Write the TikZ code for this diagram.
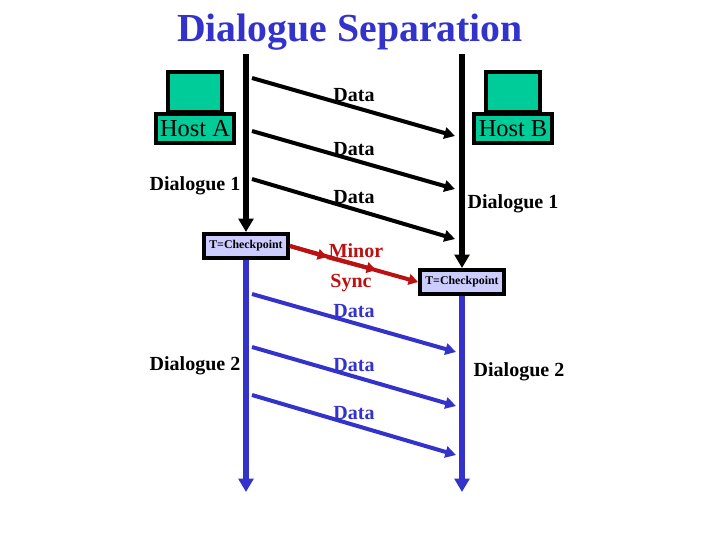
\documentclass[tikz,border=0pt]{standalone}
\usepackage{fontspec}
\setmainfont{Liberation Serif}
\usetikzlibrary{arrows.meta}
\definecolor{host_green}{HTML}{00CC99}
\definecolor{box_lilac}{HTML}{CCCCFF}
\definecolor{line_blue}{HTML}{3333CC}
\definecolor{sync_red}{HTML}{BB1111}
\tikzset{
  host_top/.style={draw=black, fill=host_green, line width=3pt, inner sep=0pt, minimum width=40.5pt, minimum height=30pt},
  host_base/.style={draw=black, fill=host_green, line width=3pt, inner sep=0pt, minimum width=58.5pt, minimum height=21.75pt, font=\fontsize{18.3}{20}\selectfont},
  check_box/.style={draw=black, fill=box_lilac, line width=3pt, inner sep=0pt, minimum width=63pt, minimum height=18pt, font=\bfseries\fontsize{8.9}{11}\selectfont},
  label_text/.style={anchor=base, inner sep=0pt, font=\bfseries\fontsize{15}{17}\selectfont},
  time_line/.style={line width=4.2pt, -{Triangle[width=11pt,length=10pt]}},
  data_line/.style={line width=3pt, -{Triangle[width=8.5pt,length=8pt]}},
  sync_line/.style={line width=3pt, sync_red, -{Triangle[width=8pt,length=7pt]}}
}
\begin{document}
\begin{tikzpicture}[x=0.75pt, y=-0.75pt]
  \useasboundingbox (0,0) rectangle (720,540);

  % Titulo
  \node[anchor=base, inner sep=0pt, line_blue, font=\bfseries\fontsize{29.8}{34}\selectfont] (title) at (350,41) {Dialogue Separation};

  % Extremos de las lineas
  \coordinate (a_top) at (246,54);
  \coordinate (b_top) at (462,54);
  \coordinate (a_end) at (246,492);
  \coordinate (b_end) at (462,492);
  \coordinate (d1_s) at (252,78);
  \coordinate (d1_e) at (455,136);
  \coordinate (d2_s) at (252,131);
  \coordinate (d2_e) at (455,189);
  \coordinate (d3_s) at (252,179);
  \coordinate (d3_e) at (455,239);
  \coordinate (d4_s) at (252,294);
  \coordinate (d4_e) at (456,352);
  \coordinate (d5_s) at (252,347);
  \coordinate (d5_e) at (456,406);
  \coordinate (d6_s) at (252,395);
  \coordinate (d6_e) at (456,455);
  \coordinate (s1) at (327,257);
  \coordinate (s2) at (376,270);

  % Cajas
  \node[check_box] (check_a) at (246,246) {T=Checkpoint};
  \node[check_box] (check_b) at (462,282) {T=Checkpoint};
  \node[host_top] (mon_a) at (195,92) {};
  \node[host_base] (host_a) at (195,128.5) {Host A};
  \node[host_top] (mon_b) at (513,92) {};
  \node[host_base] (host_b) at (513,128.5) {Host B};

  % Lineas de tiempo
  \draw[time_line] (a_top) -- (check_a.north);
  \draw[time_line] (b_top) -- (check_b.north);
  \draw[time_line, line_blue] (check_a.south) -- (a_end);
  \draw[time_line, line_blue] (check_b.south) -- (b_end);

  % Datos
  \draw[data_line] (d1_s) -- (d1_e);
  \draw[data_line] (d2_s) -- (d2_e);
  \draw[data_line] (d3_s) -- (d3_e);
  \draw[data_line, line_blue] (d4_s) -- (d4_e);
  \draw[data_line, line_blue] (d5_s) -- (d5_e);
  \draw[data_line, line_blue] (d6_s) -- (d6_e);

  % Sincronizacion
  \draw[sync_line] (check_a.east) -- (check_b.west);
  \draw[sync_line] (check_a.east) -- (s1);
  \draw[sync_line] (s1) -- (s2);

  % Etiquetas
  \node[label_text] (data_1) at (354,101) {Data};
  \node[label_text] (data_2) at (354,155) {Data};
  \node[label_text] (data_3) at (354,203) {Data};
  \node[label_text, sync_red] (minor) at (356,257) {Minor};
  \node[label_text, sync_red] (sync) at (351,287) {Sync};
  \node[label_text, line_blue] (data_4) at (354,317) {Data};
  \node[label_text, line_blue] (data_5) at (354,371) {Data};
  \node[label_text, line_blue] (data_6) at (354,419) {Data};
  \node[label_text] (dial_a1) at (195,190) {Dialogue 1};
  \node[label_text] (dial_b1) at (513,208) {Dialogue 1};
  \node[label_text] (dial_a2) at (195,370) {Dialogue 2};
  \node[label_text] (dial_b2) at (519,376) {Dialogue 2};
\end{tikzpicture}
\end{document}
